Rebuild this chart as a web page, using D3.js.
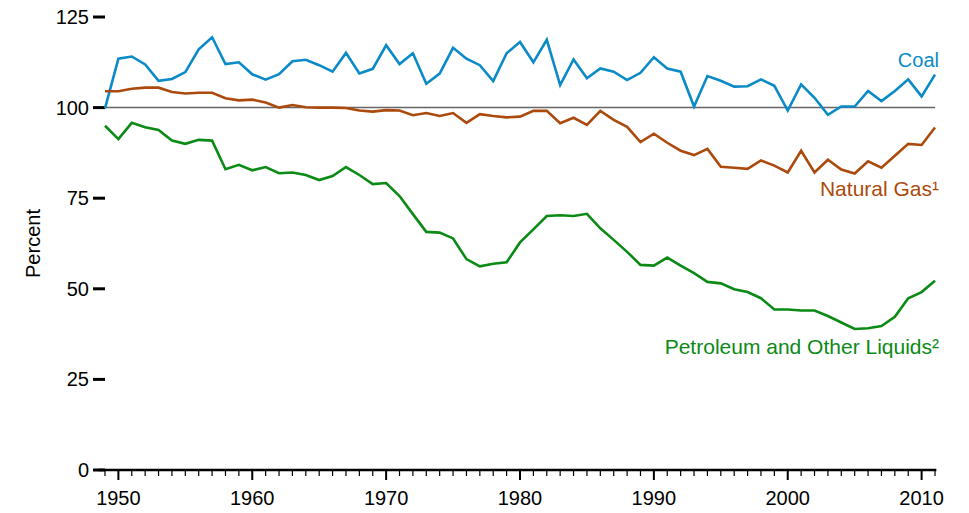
<!DOCTYPE html>
<html>
<head>
<meta charset="utf-8">
<script src="https://cdn.jsdelivr.net/npm/d3@7"></script>
<style>
  body { margin: 0; background: #fff; }
  svg { display: block; }
</style>
</head>
<body>
<svg id="chart"></svg>
<script>
const width = 969;
const height = 513;

// years 1949..2011
const years = d3.range(1949, 2012);

const coal = [
  99.8, 113.5, 114.1, 111.9, 107.4, 107.9, 109.8, 116.1, 119.4, 112.0,
  112.5, 109.2, 107.7, 109.2, 112.8, 113.2, 111.7, 109.9, 115.1, 109.4,
  110.7, 117.2, 112.0, 115.0, 106.6, 109.4, 116.5, 113.5, 111.7, 107.3,
  115.0, 118.1, 112.5, 118.7, 106.2, 113.3, 108.1, 110.8, 109.9, 107.6,
  109.6, 113.9, 110.8, 109.9, 100.3, 108.7, 107.4, 105.8, 105.9, 107.8,
  106.0, 99.2, 106.4, 102.7, 98.0, 100.3, 100.3, 104.6, 101.8, 104.6,
  107.8, 103.1, 109.1
];

const naturalGas = [
  104.5, 104.5, 105.2, 105.5, 105.5, 104.3, 103.9, 104.1, 104.1, 102.6,
  102.0, 102.2, 101.4, 100.0, 100.7, 100.1, 100.0, 100.0, 99.9, 99.2,
  98.9, 99.3, 99.2, 97.9, 98.5, 97.7, 98.5, 95.8, 98.2, 97.7,
  97.3, 97.5, 99.1, 99.1, 95.7, 97.2, 95.2, 99.1, 96.6, 94.7,
  90.5, 92.8, 90.3, 88.1, 86.9, 88.6, 83.7, 83.4, 83.1, 85.4,
  84.0, 82.1, 88.1, 82.1, 85.6, 82.9, 81.8, 85.2, 83.4, 86.7,
  90.0, 89.7, 94.5
];

const petroleum = [
  95.0, 91.3, 95.8, 94.6, 93.8, 90.9, 90.0, 91.1, 90.9, 83.0,
  84.2, 82.7, 83.6, 81.9, 82.1, 81.4, 80.0, 81.1, 83.6, 81.4,
  78.9, 79.2, 75.6, 70.6, 65.7, 65.5, 63.9, 58.2, 56.2, 56.9,
  57.3, 62.8, 66.4, 70.1, 70.3, 70.1, 70.7, 66.7, 63.5, 60.2,
  56.6, 56.4, 58.6, 56.4, 54.3, 51.9, 51.5, 49.9, 49.1, 47.4,
  44.3, 44.3, 44.0, 44.0, 42.5, 40.7, 38.9, 39.1, 39.7, 42.3,
  47.4, 49.1, 52.2
];

const yTicks = [0, 25, 50, 75, 100, 125];
const xLabelYears = [1950, 1960, 1970, 1980, 1990, 2000, 2010];

const series = [
  { name: "Coal", values: coal, color: "#0a8ac6", labelY: 60, size: 20 },
  { name: "Natural Gas\u00b9", values: naturalGas, color: "#ab4a0c", labelY: 189, size: 21 },
  { name: "Petroleum and Other Liquids\u00b2", values: petroleum, color: "#0b8a16", labelY: 347, size: 21 }
];

const x = d3.scaleLinear().domain([1949, 2011]).range([105, 935]);
const y = d3.scaleLinear().domain([0, 125]).range([470, 17]);

const svg = d3.select("#chart")
  .attr("width", width)
  .attr("height", height)
  .attr("viewBox", [0, 0, width, height]);

// reference line at 100%
svg.append("line")
  .attr("x1", x(1949)).attr("x2", x(2011))
  .attr("y1", y(100)).attr("y2", y(100))
  .attr("stroke", "#666")
  .attr("stroke-width", 1.5);

// y ticks: short heavy dashes with labels, no axis line
const yAxis = svg.append("g").attr("class", "y-axis");
yAxis.selectAll("line")
  .data(yTicks)
  .join("line")
  .attr("x1", 93).attr("x2", 105)
  .attr("y1", d => y(d)).attr("y2", d => y(d))
  .attr("stroke", "#000")
  .attr("stroke-width", 3);
yAxis.selectAll("text")
  .data(yTicks)
  .join("text")
  .attr("x", 89)
  .attr("y", d => y(d))
  .attr("dy", "0.35em")
  .attr("text-anchor", "end")
  .attr("font-family", "'Liberation Sans Narrow', 'Liberation Sans', Arial, sans-serif")
  .attr("font-size", 20)
  .attr("fill", "#000")
  .text(d => d);

// x axis: yearly minor ticks, longer decade ticks
const xAxis = svg.append("g").attr("class", "x-axis");
xAxis.append("line")
  .attr("x1", x(1948.5)).attr("x2", x(2011.1))
  .attr("y1", y(0)).attr("y2", y(0))
  .attr("stroke", "#000")
  .attr("stroke-width", 2.5);
xAxis.selectAll("line.tick")
  .data(years)
  .join("line")
  .attr("class", "tick")
  .attr("x1", d => x(d)).attr("x2", d => x(d))
  .attr("y1", y(0))
  .attr("y2", d => y(0) + (d % 10 === 0 ? 10 : 6))
  .attr("stroke", "#000")
  .attr("stroke-width", d => d % 10 === 0 ? 2 : 1.2);
xAxis.selectAll("text")
  .data(xLabelYears)
  .join("text")
  .attr("x", d => x(d))
  .attr("y", 505)
  .attr("text-anchor", "middle")
  .attr("font-family", "'Liberation Sans Narrow', 'Liberation Sans', Arial, sans-serif")
  .attr("font-size", 20)
  .attr("fill", "#000")
  .text(d => d);

// y axis title
svg.append("text")
  .attr("transform", `translate(40,${(y(0) + y(125)) / 2}) rotate(-90)`)
  .attr("text-anchor", "middle")
  .attr("font-family", "'Liberation Sans', Arial, sans-serif")
  .attr("font-size", 20)
  .attr("fill", "#000")
  .text("Percent");

const line = d3.line()
  .x((d, i) => x(years[i]))
  .y(d => y(d));

svg.selectAll("path.series")
  .data(series)
  .join("path")
  .attr("class", "series")
  .attr("fill", "none")
  .attr("stroke", d => d.color)
  .attr("stroke-width", 2.6)
  .attr("stroke-linejoin", "miter")
  .attr("d", d => line(d.values));

svg.selectAll("text.label")
  .data(series)
  .join("text")
  .attr("class", "label")
  .attr("x", 939)
  .attr("y", d => d.labelY)
  .attr("dy", "0.35em")
  .attr("text-anchor", "end")
  .attr("font-family", "'Liberation Sans', Arial, sans-serif")
  .attr("font-size", d => d.size)
  .attr("fill", d => d.color)
  .text(d => d.name);
</script>
</body>
</html>
